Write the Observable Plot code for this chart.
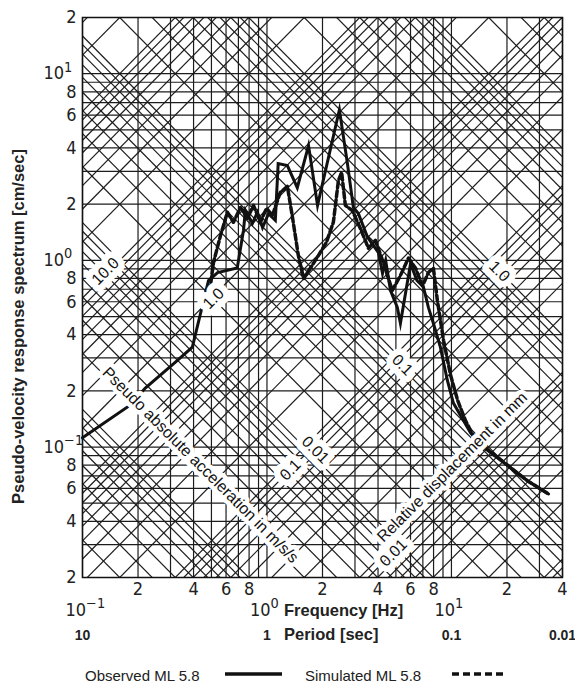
<!DOCTYPE html>
<html><head><meta charset="utf-8">
<script src="https://cdn.jsdelivr.net/npm/d3@7"></script>
<script src="https://cdn.jsdelivr.net/npm/@observablehq/plot@0.6"></script>
<style>
body{margin:0;background:#fff;}
#wrap{position:relative;width:575px;height:688px;background:#fff;}
</style></head><body><div id="wrap"></div>
<script>
// ---- data ----
const obsFreq = [0.1, 0.182, 0.219, 0.319, 0.394, 0.482, 0.54, 0.69, 0.746, 0.764, 0.834, 0.887, 0.946, 1.02, 1.11, 1.15, 1.29, 1.46, 1.68, 1.88, 2.47, 2.73, 2.94, 3.13, 3.51, 4.02, 4.23, 4.4, 4.67, 5.09, 5.29, 6.0, 6.5, 7.05, 7.5, 7.98, 8.71, 9.5, 10.25, 12.7, 14.9, 25.8, 33.6];
const obsPSV  = [0.112, 0.168, 0.207, 0.285, 0.343, 0.78, 0.86, 0.91, 1.45, 1.85, 1.58, 1.81, 1.50, 1.78, 1.64, 3.30, 3.22, 2.45, 4.12, 1.97, 6.41, 3.30, 1.92, 1.78, 1.33, 1.10, 0.85, 1.0, 0.69, 0.56, 0.46, 0.96, 0.78, 0.72, 0.56, 0.46, 0.343, 0.228, 0.172, 0.119, 0.100, 0.066, 0.056];
const simFreq = [0.482, 0.513, 0.56, 0.61, 0.658, 0.718, 0.783, 0.845, 0.922, 0.994, 1.07, 1.18, 1.29, 1.37, 1.48, 1.58, 1.72, 1.90, 2.10, 2.29, 2.44, 2.54, 2.66, 2.90, 3.21, 3.55, 3.87, 4.27, 4.78, 5.29, 5.85, 6.38, 6.97, 7.5, 7.98, 8.39, 9.06, 9.89, 10.8, 11.9, 13.5, 25.8, 33.6];
const simPSV  = [0.61, 0.975, 1.36, 1.81, 1.60, 1.92, 1.68, 1.97, 1.60, 1.90, 1.74, 2.31, 2.49, 1.74, 1.06, 0.80, 0.91, 1.06, 1.25, 1.60, 2.68, 2.96, 1.97, 1.85, 1.48, 1.16, 1.28, 0.975, 0.69, 0.83, 1.03, 0.91, 0.73, 0.86, 0.91, 0.61, 0.373, 0.243, 0.178, 0.139, 0.109, 0.066, 0.056];

const xTickVals = [0.2, 0.4, 0.6, 0.8, 2, 4, 6, 8, 20, 40];
const xTickLabels = ["2","4","6","8","2","4","6","8","2","4"];
const xPowVals = [0.1, 1, 10];
const xPowLabels = ["10^\u22121", "10^0", "10^1"];
const periodFreq = [0.1, 1, 10, 40];
const periodLabels = ["10", "1", "0.1", "0.01"];
const yTickVals = [0.02, 0.04, 0.06, 0.08, 0.2, 0.4, 0.6, 0.8, 2, 4, 6, 8, 20];
const yTickLabels = ["2","4","6","8","2","4","6","8","2","4","6","8","2"];
const yPowVals = [0.1, 1, 10];
const yPowLabels = ["10^\u22121", "10^0", "10^1"];

// grid: 1..9 per decade
const gridMult = [1,2,3,4,5,6,7,8,9];
const freqDecades = [-1, 0, 1];
const psvDecades = [-2, -1, 0, 1];
const accDecades = [-4, -3, -2, -1, 0, 1];   // m/s/s
const dispDecades = [-4, -3, -2, -1, 0, 1, 2]; // mm

// diagonal annotations
const diagText  = ["10.0", "1.0", "0.1", "0.01", "0.1", "1.0", "0.01"];
const diagFreq  = [0.133, 0.513, 1.34, 1.83, 5.42, 18.2, 4.85];
const diagPSV   = [0.873, 0.624, 0.0753, 0.0964, 0.275, 0.873, 0.0271];
const diagAngle = [-45, -45, -45, 45, 45, 45, -45];
const titleText  = ["Pseudo absolute acceleration in m/s/s", "Relative displacement in mm"];
const titleFreq  = [0.436, 10.1];
const titlePSV   = [0.080, 0.078];
const titleAngle = [45, -45];

// ---- build ----
const TWO_PI = 2 * Math.PI;
const xGrid = freqDecades.flatMap(n => gridMult.map(k => k * 10 ** n)).filter(f => f <= 40);
const yGrid = psvDecades.flatMap(n => gridMult.map(k => k * 10 ** n)).filter(v => v >= 0.02 && v <= 20);
const accLines = accDecades.flatMap(n => gridMult.map(k => k * 10 ** n));
const dispLines = dispDecades.flatMap(n => gridMult.map(k => k * 10 ** n));
const obs = obsFreq.map((f, i) => ({f, v: obsPSV[i]}));
const sim = simFreq.map((f, i) => ({f, v: simPSV[i]}));
const FMIN = 0.1, FMAX = 40;

const narrow = "'Liberation Sans Narrow', 'DejaVu Sans Condensed', 'Arial Narrow', 'Liberation Sans', sans-serif";
const sans = "'Liberation Sans', Arial, Helvetica, sans-serif";
const gridStroke = "#1c1c1c";

const chart = Plot.plot({
  width: 575, height: 650,
  marginLeft: 82, marginRight: 13, marginTop: 17, marginBottom: 73,
  x: {type: "log", domain: [0.1, 40], axis: null},
  y: {type: "log", domain: [0.02, 20], axis: null},
  style: {background: "white", fontFamily: sans, overflow: "visible"},
  marks: [
    Plot.ruleX(xGrid, {x: d => d, stroke: gridStroke, strokeWidth: 1.2}),
    Plot.ruleY(yGrid, {y: d => d, stroke: gridStroke, strokeWidth: 1.2}),
    Plot.link(accLines, {x1: () => FMIN, x2: () => FMAX,
      y1: a => 100 * a / (TWO_PI * FMIN), y2: a => 100 * a / (TWO_PI * FMAX),
      stroke: gridStroke, strokeWidth: 1.2, clip: true}),
    Plot.link(dispLines, {x1: () => FMIN, x2: () => FMAX,
      y1: d => TWO_PI * FMIN * d / 10, y2: d => TWO_PI * FMAX * d / 10,
      stroke: gridStroke, strokeWidth: 1.2, clip: true}),
    Plot.line(obs, {x: "f", y: "v", stroke: "#111", strokeWidth: 3, strokeLinejoin: "miter", strokeMiterlimit: 6}),
    Plot.line(sim, {x: "f", y: "v", stroke: "#111", strokeWidth: 3.5, strokeDasharray: "6,3"}),
    Plot.text(titleText, {x: (d, i) => titleFreq[i], y: (d, i) => titlePSV[i], text: d => d,
      rotate: (d, i) => titleAngle[i], fontSize: 16, fontFamily: sans, fill: "#111",
      stroke: "white", strokeWidth: 9}),
    Plot.text(diagText, {x: (d, i) => diagFreq[i], y: (d, i) => diagPSV[i], text: d => d,
      rotate: (d, i) => diagAngle[i], fontSize: 16, fontFamily: sans, fill: "#111",
      stroke: "white", strokeWidth: 13}),
    Plot.frame({stroke: "#111", strokeWidth: 1.5}),
    // y tick labels
    Plot.text(yTickVals, {y: d => d, text: (d, i) => yTickLabels[i], frameAnchor: "left", dx: -6,
      textAnchor: "end", lineAnchor: "middle", fontSize: 18, fontFamily: narrow, fill: "#222"}),
    Plot.text(yPowVals, {y: d => d, text: (d, i) => yPowLabels[i], frameAnchor: "left", dx: -39,
      textAnchor: "start", lineAnchor: "middle", fontSize: 18, fontFamily: narrow, fill: "#222"}),
    // x tick labels
    Plot.text(xTickVals, {x: d => d, text: (d, i) => xTickLabels[i], frameAnchor: "bottom", dy: 12,
      lineAnchor: "middle", fontSize: 18, fontFamily: narrow, fill: "#222"}),
    Plot.text(xPowVals, {x: d => d, text: (d, i) => xPowLabels[i], frameAnchor: "bottom", dy: 33,
      dx: -17, textAnchor: "start", lineAnchor: "middle", fontSize: 18, fontFamily: narrow, fill: "#222"}),
    Plot.text(periodFreq, {x: d => d, text: (d, i) => periodLabels[i], frameAnchor: "bottom", dy: 58,
      lineAnchor: "middle", fontSize: 14, fontWeight: "bold", fontFamily: sans, fill: "#222"}),
    Plot.text(["Frequency [Hz]"], {x: () => 1, frameAnchor: "bottom", dy: 33, dx: 17, textAnchor: "start",
      lineAnchor: "middle", fontSize: 16.5, fontWeight: "bold", fontFamily: sans, fill: "#222"}),
    Plot.text(["Period [sec]"], {x: () => 1, frameAnchor: "bottom", dy: 57, dx: 17, textAnchor: "start",
      lineAnchor: "middle", fontSize: 16.5, fontWeight: "bold", fontFamily: sans, fill: "#222"}),
    Plot.text(["Pseudo-velocity response spectrum [cm/sec]"], {frameAnchor: "left", dx: -64, dy: 29,
      textAnchor: "middle", lineAnchor: "middle", rotate: -90, fontSize: 16.5, fontWeight: "bold",
      fontFamily: sans, fill: "#222"})
  ]
});

// superscripts for powers of ten
d3.select(chart).selectAll("text").each(function() {
  const t = this.textContent;
  const i = t.indexOf("^");
  if (i < 0) return;
  const sel = d3.select(this);
  sel.text(null);
  sel.append("tspan").text(t.slice(0, i));
  sel.append("tspan").attr("dy", "-0.55em").attr("font-size", "0.8em").text(t.slice(i + 1));
});

const wrap = document.getElementById("wrap");
wrap.appendChild(chart);

// legend below the chart
const legendItems = ["Observed ML 5.8", "Simulated ML 5.8"];
const legendDash = [null, "7,4"];
const legendTextX = [85, 305];
const legendLineX = [[225, 282], [452, 505]];
const leg = d3.select(wrap).append("svg").attr("width", 575).attr("height", 38)
  .style("position", "absolute").style("left", "0px").style("top", "650px");
legendItems.forEach((name, i) => {
  leg.append("text").attr("x", legendTextX[i]).attr("y", 31).attr("font-family", sans)
    .attr("font-size", 15).attr("fill", "#222").text(name);
  const ln = leg.append("line").attr("x1", legendLineX[i][0]).attr("x2", legendLineX[i][1])
    .attr("y1", 24).attr("y2", 24).attr("stroke", "#111").attr("stroke-width", 3.5);
  if (legendDash[i]) ln.attr("stroke-dasharray", legendDash[i]);
});
</script></body></html>
